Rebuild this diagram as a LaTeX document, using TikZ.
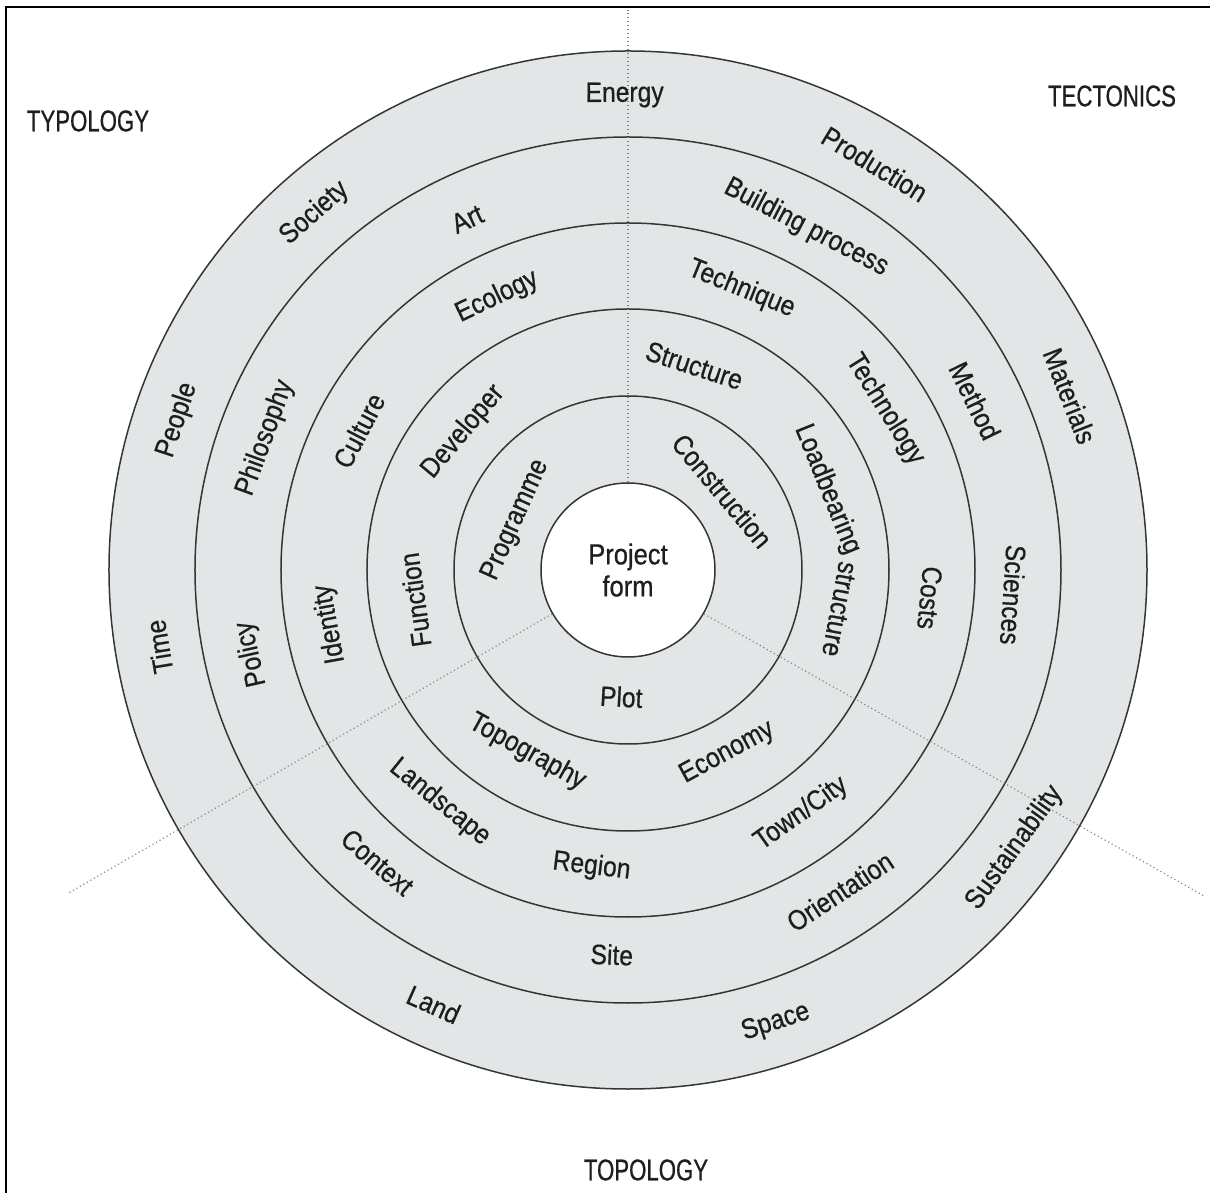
\documentclass[tikz,border=0pt]{standalone}
\usepackage{fontspec}
\setmainfont{Liberation Sans}[FakeStretch=0.88]
\newfontfamily\ringfont{Liberation Sans}[FakeStretch=0.88, FakeBold=0.6]
\newfontfamily\cornerfont{Liberation Sans}[FakeStretch=0.74, FakeBold=0.6]

\definecolor{ringgray}{RGB}{227,230,231}
\definecolor{inkgray}{RGB}{30,30,30}

% etiqueta horaria (letras hacia fuera) / antihoraria (letras hacia dentro)
\newcommand{\cwlabel}[4]{\node[ringlab, rotate=#2-90] (#1) at (#2:#3) {#4};}
\newcommand{\ccwlabel}[4]{\node[ringlab, rotate=#2+90] (#1) at (#2:#3) {#4};}

\begin{document}
\begin{tikzpicture}[
    x=1pt, y=1pt,
    ringline/.style={draw=inkgray!90, line width=1.5pt},
    sector/.style={draw=gray, line width=1.1pt, dash pattern=on 1.2pt off 2.8pt},
    core/.style={draw=inkgray!90, circle, fill=white, line width=1.5pt, minimum size=174pt, inner sep=0pt, align=center, font=\ringfont\fontsize{29}{36}\selectfont, text=inkgray},
    corner/.style={font=\cornerfont\fontsize{30}{32}\selectfont, text=inkgray},
    ringlab/.style={font=\ringfont\fontsize{28}{30}\selectfont, text=inkgray, inner sep=0pt}
]
\useasboundingbox (-628,-623) rectangle (582,570);

% Marco
\draw[line width=2.4pt] (-622,-623) -- (-622,563) -- (582,563);

% Anillos
\fill[ringgray] (0,0) circle[radius=519];
\coordinate (tipup) at (0,560);
\coordinate (tipleft) at (210:645);
\coordinate (tipright) at (-29.5:662);
\draw[ringline] (0,0) circle[radius=519];
\draw[ringline] (0,0) circle[radius=433];
\draw[ringline] (0,0) circle[radius=347];
\draw[ringline] (0,0) circle[radius=261];
\draw[ringline] (0,0) circle[radius=174];
\node[core] (core) at (0,0) {Project\\[-4pt]form};

% Sectores
\draw[sector] (core.90) -- (tipup);
\draw[sector] (core.210) -- (tipleft);
\draw[sector] (core.-30) -- (tipright);

% Titulos
\node[corner] (typology) at (-540,449) {TYPOLOGY};
\node[corner] (tectonics) at (484,474) {TECTONICS};
\node[corner] (topology) at (18,-600) {TOPOLOGY};

% Anillo 1
\cwlabel{programme}{156}{123}{Programme}
\cwlabel{construction}{40}{123}{Construction}
\ccwlabel{plot}{267}{127}{Plot}

% Anillo 2
\cwlabel{developer}{140}{215}{Developer}
\cwlabel{structure}{72}{215}{Structure}
\cwlabel{loadbearing}{22}{215}{Loadbearing}
\cwlabel{loadstructure}{-10.5}{215}{structure}
\cwlabel{function}{188}{215}{Function}
\ccwlabel{topography}{241}{208}{Topography}
\ccwlabel{economy}{298.5}{208}{Economy}

% Anillo 3
\cwlabel{ecology}{115.6}{303}{Ecology}
\cwlabel{technique}{68}{303}{Technique}
\cwlabel{technology}{32}{303}{Technology}
\cwlabel{culture}{152.6}{303}{Culture}
\cwlabel{identity}{190.3}{303}{Identity}
\cwlabel{costs}{-5.3}{303}{Costs}
\ccwlabel{landscape}{231}{299}{Landscape}
\ccwlabel{region}{263}{299}{Region}
\ccwlabel{towncity}{305.4}{299}{Town/City}

% Anillo 4
\cwlabel{art}{114.6}{386}{Art}
\cwlabel{building}{62.5}{386}{Building process}
\cwlabel{method}{26}{386}{Method}
\cwlabel{philosophy}{160}{386}{Philosophy}
\cwlabel{policy}{192.6}{386}{Policy}
\cwlabel{sciences}{-3.7}{386}{Sciences}
\ccwlabel{context}{229.4}{385}{Context}
\ccwlabel{site}{267.6}{385}{Site}
\ccwlabel{orientation}{303.4}{385}{Orientation}

% Anillo 5
\cwlabel{energy}{90.4}{475}{Energy}
\cwlabel{production}{58.7}{475}{Production}
\cwlabel{society}{131.3}{475}{Society}
\cwlabel{people}{161.6}{475}{People}
\cwlabel{materials}{21.5}{475}{Materials}
\cwlabel{time}{189.3}{475}{Time}
\ccwlabel{sustainability}{324.3}{476}{Sustainability}
\ccwlabel{land}{245.9}{476}{Land}
\ccwlabel{space}{288.1}{476}{Space}

\end{tikzpicture}
\end{document}
